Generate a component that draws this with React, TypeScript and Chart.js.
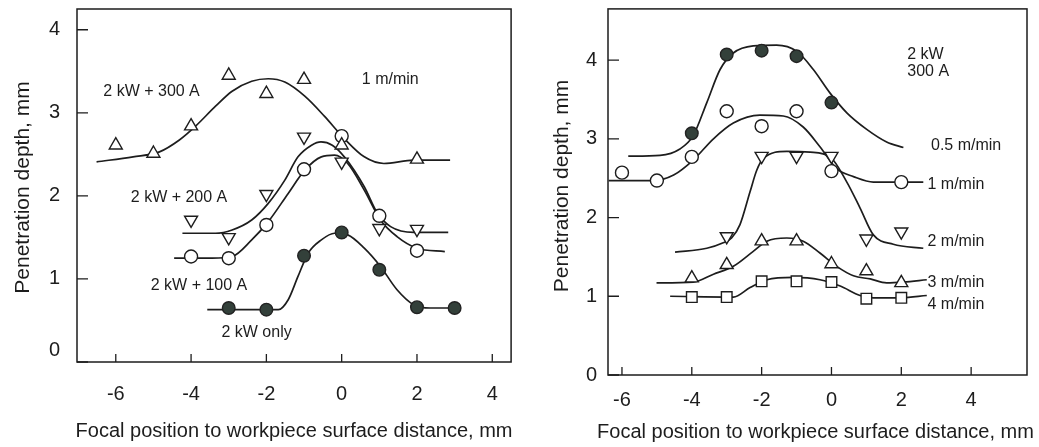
import React, { useEffect, useRef } from 'react';
import { Chart, registerables } from 'chart.js';

Chart.register(...registerables);

const FONT = '"Liberation Sans", Arial, Helvetica, sans-serif';
const INK = '#1d1d1d';
const DARK_DOT = '#33403a';

// ---------------- Left panel (1 m/min) ----------------
const L_X_TICKS = [-6, -4, -2, 0, 2, 4];
const L_Y_TICKS = [0, 1, 2, 3, 4];

const L_300A_X = [-6, -5, -4, -3, -2, -1, 0, 2];
const L_300A_Y = [2.61, 2.51, 2.84, 3.45, 3.23, 3.4, 2.61, 2.44];
const L_300A_FIT_X = [-6.51, -5.54, -4.84, -4.32, -3.88, -3.35, -2.91, -2.39, -1.95, -1.51, -0.98, -0.46, 0.07, 0.6, 1.12, 1.91, 2.88];
const L_300A_FIT_Y = [2.41, 2.47, 2.53, 2.67, 2.84, 3.08, 3.26, 3.38, 3.41, 3.37, 3.2, 2.96, 2.69, 2.47, 2.39, 2.43, 2.43];

const L_200A_X = [-4, -3, -2, -1, 0, 1, 2];
const L_200A_Y = [1.71, 1.5, 2.02, 2.71, 2.41, 1.61, 1.6];
const L_200A_FIT_X = [-4.23, -3.35, -2.91, -2.39, -1.95, -1.51, -1.16, -0.8, -0.55, -0.25, 0.07, 0.6, 0.95, 1.3, 1.91, 2.83];
const L_200A_FIT_Y = [1.55, 1.55, 1.59, 1.71, 1.91, 2.19, 2.47, 2.61, 2.65, 2.61, 2.47, 2.11, 1.79, 1.63, 1.56, 1.56];

const L_100A_X = [-4, -3, -2, -1, 0, 1, 2];
const L_100A_Y = [1.27, 1.25, 1.65, 2.32, 2.72, 1.76, 1.34];
const L_100A_FIT_X = [-4.45, -3.44, -2.91, -2.39, -1.95, -1.42, -0.98, -0.54, -0.19, 0.16, 0.6, 1.03, 1.47, 2.0, 2.74];
const L_100A_FIT_Y = [1.25, 1.25, 1.27, 1.47, 1.69, 2.03, 2.31, 2.47, 2.49, 2.39, 2.07, 1.71, 1.51, 1.37, 1.33];

const L_ONLY_X = [-3, -2, -1, 0, 1, 2, 3];
const L_ONLY_Y = [0.65, 0.63, 1.28, 1.56, 1.11, 0.66, 0.65];
const L_ONLY_FIT_X = [-3.57, -2.91, -1.68, -1.42, -1.16, -0.89, -0.54, -0.19, 0.16, 0.6, 1.03, 1.47, 1.91, 2.35, 3.1];
const L_ONLY_FIT_Y = [0.63, 0.63, 0.63, 0.75, 1.03, 1.31, 1.47, 1.55, 1.53, 1.37, 1.15, 0.87, 0.69, 0.65, 0.65];

const L_LABEL_TEXT = ['2 kW + 300 A', '1 m/min', '2 kW + 200 A', '2 kW + 100 A', '2 kW only'];
const L_LABEL_X = [-5.05, 1.29, -4.32, -3.79, -2.26];
const L_LABEL_Y = [3.25, 3.4, 1.98, 0.92, 0.35];

// ---------------- Right panel (2 kW, 300 A) ----------------
const R_X_TICKS = [-6, -4, -2, 0, 2, 4];
const R_Y_TICKS = [0, 1, 2, 3, 4];

const R_05_X = [-4, -3, -2, -1, 0];
const R_05_Y = [3.07, 4.07, 4.12, 4.05, 3.46];
const R_05_FIT_X = [-5.82, -4.91, -4.34, -3.96, -3.57, -3.19, -2.81, -2.24, -1.57, -0.99, -0.52, -0.04, 0.44, 1.01, 1.58, 2.06];
const R_05_FIT_Y = [2.78, 2.79, 2.87, 3.04, 3.46, 3.88, 4.09, 4.18, 4.19, 4.11, 3.88, 3.58, 3.33, 3.12, 2.96, 2.89];

const R_1_X = [-6, -5, -4, -3, -2, -1, 0, 2];
const R_1_Y = [2.57, 2.47, 2.77, 3.35, 3.16, 3.35, 2.59, 2.45];
const R_1_FIT_X = [-6.38, -5.1, -4.52, -3.96, -3.38, -2.81, -2.05, -1.38, -0.81, -0.33, 0.15, 0.63, 1.2, 2.63];
const R_1_FIT_Y = [2.47, 2.47, 2.54, 2.73, 3.0, 3.2, 3.3, 3.29, 3.15, 2.9, 2.62, 2.52, 2.45, 2.45];

const R_2_X = [-3, -2, -1, 0, 1, 2];
const R_2_Y = [1.76, 2.78, 2.78, 2.78, 1.73, 1.82];
const R_2_FIT_X = [-4.48, -3.57, -3.1, -2.86, -2.62, -2.33, -2.14, -1.95, -1.28, -0.61, -0.04, 0.44, 0.82, 1.2, 1.77, 2.63];
const R_2_FIT_Y = [1.56, 1.61, 1.68, 1.74, 1.91, 2.33, 2.6, 2.75, 2.84, 2.83, 2.77, 2.45, 2.12, 1.78, 1.66, 1.61];

const R_3_X = [-4, -3, -2, -1, 0, 1, 2];
const R_3_Y = [1.23, 1.4, 1.7, 1.7, 1.41, 1.32, 1.17];
const R_3_FIT_X = [-5.01, -3.96, -3.38, -2.81, -2.24, -1.85, -1.28, -0.81, -0.33, 0.15, 0.63, 1.11, 1.58, 2.06, 2.73];
const R_3_FIT_Y = [1.17, 1.18, 1.28, 1.38, 1.57, 1.7, 1.74, 1.7, 1.55, 1.38, 1.26, 1.22, 1.17, 1.18, 1.21];

const R_4_X = [-4, -3, -2, -1, 0, 1, 2];
const R_4_Y = [0.99, 0.99, 1.19, 1.19, 1.18, 0.97, 0.98];
const R_4_FIT_X = [-4.62, -2.81, -2.33, -1.85, -1.09, -0.33, 0.25, 0.82, 1.2, 2.0, 2.73];
const R_4_FIT_Y = [1.0, 0.99, 1.11, 1.21, 1.24, 1.21, 1.13, 1.01, 0.98, 0.98, 1.01];

const R_LABEL_TEXT = ['2 kW', '300 A', '0.5 m/min', '1 m/min', '2 m/min', '3 m/min', '4 m/min'];
const R_LABEL_X = [2.17, 2.17, 2.85, 2.75, 2.75, 2.75, 2.75];
const R_LABEL_Y = [4.07, 3.86, 2.91, 2.42, 1.69, 1.17, 0.9];

const X_TITLE = 'Focal position to workpiece surface distance, mm';
const Y_TITLE = 'Penetration depth, mm';

// ---------------- helpers ----------------
const zip = (xs: number[], ys: number[]) => xs.map((x, i) => ({ x, y: ys[i] }));

function curve(xs: number[], ys: number[]) {
  return {
    type: 'scatter',
    data: zip(xs, ys),
    showLine: true,
    borderColor: INK,
    borderWidth: 1.7,
    pointRadius: 0,
    pointHoverRadius: 0,
    cubicInterpolationMode: 'monotone',
    fill: false,
    order: 2,
    clip: false,
  };
}

function markers(xs: number[], ys: number[], style: string, filled: boolean, rotation = 0, radius = 7) {
  return {
    type: 'scatter',
    data: zip(xs, ys),
    showLine: false,
    pointStyle: style,
    pointRotation: rotation,
    pointRadius: radius,
    pointHoverRadius: radius,
    pointBackgroundColor: filled ? DARK_DOT : '#ffffff',
    pointBorderColor: filled ? '#222' : INK,
    pointBorderWidth: 1.4,
    order: 1,
    clip: false,
  };
}

const framePlugin = {
  id: 'frame',
  beforeDatasetsDraw(chart: any, _a: any, opts: any) {
    const { ctx, chartArea: a, scales } = chart;
    ctx.save();
    ctx.strokeStyle = INK;
    ctx.lineWidth = 1.5;
    ctx.strokeRect(a.left, a.top, a.right - a.left, a.bottom - a.top);
    ctx.lineWidth = 1.3;
    ctx.beginPath();
    for (const t of scales.x.ticks) {
      const px = scales.x.getPixelForValue(t.value);
      ctx.moveTo(px, a.bottom);
      ctx.lineTo(px, a.bottom - opts.xTickLen);
    }
    for (const t of scales.y.ticks) {
      const py = scales.y.getPixelForValue(t.value);
      ctx.moveTo(a.left, py);
      ctx.lineTo(a.left + opts.yTickLen, py);
    }
    ctx.stroke();
    ctx.restore();
  },
  afterDraw(chart: any, _a: any, opts: any) {
    const { ctx, chartArea: a, scales } = chart;
    ctx.save();
    ctx.fillStyle = INK;
    ctx.textBaseline = 'middle';
    // annotations
    ctx.font = `16px ${FONT}`;
    ctx.textAlign = opts.labelAlign;
    opts.labelText.forEach((t: string, i: number) => {
      ctx.fillText(t, scales.x.getPixelForValue(opts.labelX[i]), scales.y.getPixelForValue(opts.labelY[i]));
    });
    // x title
    ctx.textAlign = 'center';
    ctx.font = `20px ${FONT}`;
    ctx.fillText(X_TITLE, (a.left + a.right) / 2 + opts.xTitleDx, opts.xTitleY);
    // y title
    ctx.translate(opts.yTitleX, (a.top + a.bottom) / 2 + opts.yTitleDy);
    ctx.rotate(-Math.PI / 2);
    ctx.font = `21px ${FONT}`;
    ctx.fillText(Y_TITLE, 0, 0);
    ctx.restore();
  },
};

function zeroPad(s: any) {
  s.paddingTop = 0;
  s.paddingBottom = 0;
  s.paddingLeft = 0;
  s.paddingRight = 0;
}

function makeConfig(p: any) {
  return {
    type: 'scatter',
    data: { datasets: p.datasets },
    plugins: [framePlugin],
    options: {
      responsive: false,
      animation: false,
      events: [],
      layout: { padding: p.padding },
      scales: {
        x: {
          type: 'linear',
          min: p.xMin,
          max: p.xMax,
          afterBuildTicks: (s: any) => {
            s.ticks = p.xTicks.map((v: number) => ({ value: v }));
          },
          afterFit: (s: any) => {
            s.height = p.xAxisH;
            zeroPad(s);
          },
          grid: { display: false, drawTicks: false },
          border: { display: false },
          ticks: {
            font: { family: FONT, size: 20 },
            color: INK,
            padding: p.xPad,
            maxRotation: 0,
            autoSkip: false,
            callback: (v: any) => String(v),
          },
        },
        y: {
          type: 'linear',
          min: p.yMin,
          max: p.yMax,
          afterBuildTicks: (s: any) => {
            s.ticks = p.yTicks.map((v: number) => ({ value: v }));
          },
          afterFit: (s: any) => {
            s.width = p.yAxisW;
            zeroPad(s);
          },
          grid: { display: false, drawTicks: false },
          border: { display: false },
          ticks: {
            font: { family: FONT, size: 20 },
            color: INK,
            padding: p.yPad,
            autoSkip: false,
            callback: (v: any) => (v === 0 && p.raiseZero ? ['0', ''] : String(v)),
          },
        },
      },
      plugins: {
        legend: { display: false },
        tooltip: { enabled: false },
        frame: p.frame,
      },
    },
  };
}

const leftSpec = () => ({
  datasets: [
    markers(L_300A_X, L_300A_Y, 'triangle', false, 0, 7.5),
    markers(L_200A_X, L_200A_Y, 'triangle', false, 180, 7.5),
    markers(L_100A_X, L_100A_Y, 'circle', false, 0, 6.5),
    markers(L_ONLY_X, L_ONLY_Y, 'circle', true, 0, 6.3),
    curve(L_300A_FIT_X, L_300A_FIT_Y),
    curve(L_200A_FIT_X, L_200A_FIT_Y),
    curve(L_100A_FIT_X, L_100A_FIT_Y),
    curve(L_ONLY_FIT_X, L_ONLY_FIT_Y),
  ],
  padding: { top: 9, right: 5, left: 0, bottom: 0 },
  xMin: -7.03,
  xMax: 4.5,
  yMin: 0,
  yMax: 4.25,
  xTicks: L_X_TICKS,
  yTicks: L_Y_TICKS,
  xAxisH: 85,
  yAxisW: 77,
  xPad: 20,
  yPad: 17,
  raiseZero: true,
  frame: {
    xTickLen: 8,
    yTickLen: 11,
    labelText: L_LABEL_TEXT,
    labelX: L_LABEL_X,
    labelY: L_LABEL_Y,
    labelAlign: 'center',
    xTitleY: 431,
    xTitleDx: 0,
    yTitleX: 23,
    yTitleDy: 2,
  },
});

const rightSpec = () => ({
  datasets: [
    markers(R_05_X, R_05_Y, 'circle', true, 0, 6.3),
    markers(R_1_X, R_1_Y, 'circle', false, 0, 6.5),
    markers(R_2_X, R_2_Y, 'triangle', false, 180, 7.5),
    markers(R_3_X, R_3_Y, 'triangle', false, 0, 7.5),
    markers(R_4_X, R_4_Y, 'rect', false, 0, 7.5),
    curve(R_05_FIT_X, R_05_FIT_Y),
    curve(R_1_FIT_X, R_1_FIT_Y),
    curve(R_2_FIT_X, R_2_FIT_Y),
    curve(R_3_FIT_X, R_3_FIT_Y),
    curve(R_4_FIT_X, R_4_FIT_Y),
  ],
  padding: { top: 5, right: 12, left: 0, bottom: 0 },
  xMin: -6.4,
  xMax: 5.6,
  yMin: 0,
  yMax: 4.65,
  xTicks: R_X_TICKS,
  yTicks: R_Y_TICKS,
  xAxisH: 72,
  yAxisW: 88,
  xPad: 13,
  yPad: 11,
  raiseZero: false,
  frame: {
    xTickLen: 8,
    yTickLen: 11,
    labelText: R_LABEL_TEXT,
    labelX: R_LABEL_X,
    labelY: R_LABEL_Y,
    labelAlign: 'left',
    xTitleY: 432,
    xTitleDx: -2,
    yTitleX: 42,
    yTitleDy: -6,
  },
});

function Panel({ spec, left, width }: { spec: () => any; left: number; width: number }) {
  const ref = useRef<HTMLCanvasElement>(null);
  useEffect(() => {
    const chart = new Chart(ref.current as HTMLCanvasElement, makeConfig(spec()) as any);
    return () => chart.destroy();
  }, []);
  return (
    <canvas
      ref={ref}
      width={width}
      height={447}
      style={{ position: 'absolute', left, top: 0, width, height: 447 }}
    />
  );
}

export default function App() {
  return (
    <div
      style={{
        position: 'fixed',
        left: 0,
        top: 0,
        width: 1039,
        height: 447,
        background: '#ffffff',
        overflow: 'hidden',
      }}
    >
      <Panel spec={leftSpec} left={0} width={520} />
      <Panel spec={rightSpec} left={520} width={519} />
    </div>
  );
}
